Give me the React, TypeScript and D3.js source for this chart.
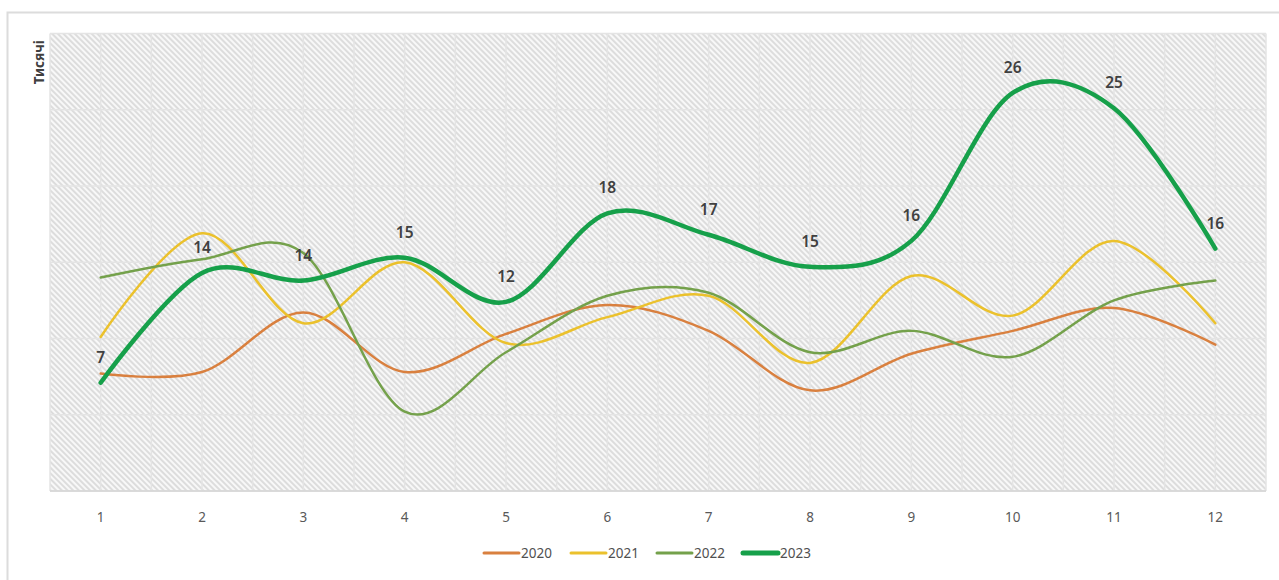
import * as d3 from "d3";
import { useRef, useEffect } from "react";

// months 1..12, values in thousands
const months = ["1", "2", "3", "4", "5", "6", "7", "8", "9", "10", "11", "12"];
const years = ["2020", "2021", "2022", "2023"];
const values2020 = [7.7, 7.8, 11.7, 7.8, 10.3, 12.2, 10.5, 6.6, 9.0, 10.5, 12.0, 9.6];
const values2021 = [10.1, 16.9, 11.0, 15.0, 9.7, 11.4, 12.8, 8.4, 14.1, 11.5, 16.4, 11.0];
const values2022 = [14.0, 15.2, 15.6, 5.2, 9.1, 12.8, 13.0, 9.1, 10.5, 8.8, 12.5, 13.8];
const values2023 = [7.1, 14.3, 13.8, 15.3, 12.4, 18.2, 16.8, 14.7, 16.4, 26.1, 25.1, 15.9];
const yTicks = [0, 5, 10, 15, 20, 25, 30];
const colors = ["#D9803F", "#EBC12C", "#74A14B", "#16A04A"];
const widths = [2.5, 2.5, 2.5, 4.5];

const App = () => {
    const container = useRef<HTMLDivElement>(null);

    useEffect(() => {
        const width = 1279;
        const height = 580;
        const marginLeft = 50, marginRight = 13, marginTop = 33.5, marginBottom = 89;
        const series = [values2020, values2021, values2022, values2023];

        d3.select(container.current).selectAll("*").remove();
        const svg = d3.select(container.current)
            .append("svg")
            .attr("width", width)
            .attr("height", height)
            .style("position", "absolute")
            .style("left", 0)
            .style("top", 0)
            .style("background", "#fff");

        const x = d3.scaleBand().domain(months).range([marginLeft, width - marginRight]);
        const y = d3.scaleLinear().domain([0, 30]).range([height - marginBottom, marginTop]);
        const cx = (m: string) => x(m)! + x.bandwidth() / 2;

        // outer chart border
        svg.append("rect")
            .attr("x", 7.5).attr("y", 12.5)
            .attr("width", width).attr("height", height)
            .attr("fill", "none")
            .attr("stroke", "#dcdcdc")
            .attr("stroke-width", 2);

        // diagonal hatch
        const pat = svg.append("defs").append("pattern")
            .attr("id", "hatch")
            .attr("patternUnits", "userSpaceOnUse")
            .attr("width", 4)
            .attr("height", 4)
            .attr("patternTransform", "rotate(-45)");
        pat.append("rect").attr("width", 4).attr("height", 4).attr("fill", "#f8f8f8");
        pat.append("line")
            .attr("x1", 1).attr("x2", 1).attr("y1", 0).attr("y2", 4)
            .attr("stroke", "#d6d6d6")
            .attr("stroke-width", 1.6);

        svg.append("rect")
            .attr("x", marginLeft)
            .attr("y", marginTop)
            .attr("width", width - marginLeft - marginRight)
            .attr("height", height - marginTop - marginBottom)
            .attr("fill", "url(#hatch)");

        // gridlines
        const grid = svg.append("g").attr("stroke", "#e4e4e4").attr("stroke-width", 1.5);
        grid.selectAll("line.h")
            .data(yTicks)
            .join("line")
            .attr("class", "h")
            .attr("x1", marginLeft).attr("x2", width - marginRight)
            .attr("y1", d => y(d)).attr("y2", d => y(d));
        const vx = months.flatMap(m => [x(m)!, cx(m)]).concat([width - marginRight]);
        grid.selectAll("line.v")
            .data(vx)
            .join("line")
            .attr("class", "v")
            .attr("y1", marginTop).attr("y2", height - marginBottom)
            .attr("x1", d => d).attr("x2", d => d);

        svg.append("line")
            .attr("x1", marginLeft).attr("x2", width - marginRight)
            .attr("y1", y(0)).attr("y2", y(0))
            .attr("stroke", "#d4d4d4")
            .attr("stroke-width", 1.5);

        // x axis labels
        svg.append("g")
            .attr("font-family", "'Noto Sans', sans-serif")
            .attr("font-size", 13.5)
            .attr("fill", "#595959")
            .attr("text-anchor", "middle")
            .selectAll("text")
            .data(months)
            .join("text")
            .attr("x", d => cx(d))
            .attr("y", height - marginBottom + 31)
            .text(d => d);

        // axis title
        svg.append("text")
            .attr("transform", `translate(44,40) rotate(-90)`)
            .attr("text-anchor", "end")
            .attr("font-family", "'Noto Sans', sans-serif")
            .attr("font-weight", "bold")
            .attr("font-size", 13.5)
            .attr("fill", "#404040")
            .text("Тисячі");

        // lines
        const line = d3.line<number>()
            .x((d, i) => cx(months[i]))
            .y(d => y(d))
            .curve(d3.curveCatmullRom.alpha(0));

        svg.append("g")
            .attr("fill", "none")
            .attr("stroke-linecap", "round")
            .selectAll("path")
            .data(series)
            .join("path")
            .attr("stroke", (d, i) => colors[i])
            .attr("stroke-width", (d, i) => widths[i])
            .attr("d", d => line(d));

        // data labels for 2023
        svg.append("g")
            .attr("font-family", "'Noto Sans', sans-serif")
            .attr("font-size", 15.5)
            .attr("font-weight", 600)
            .attr("fill", "#404040")
            .attr("text-anchor", "middle")
            .selectAll("text")
            .data(values2023)
            .join("text")
            .attr("x", (d, i) => cx(months[i]))
            .attr("y", d => y(d) - 20)
            .text(d => d3.format(".0f")(d));

        // legend
        const legendX = [484, 571, 657, 743];
        const legend = svg.append("g")
            .attr("font-family", "'Noto Sans', sans-serif")
            .attr("font-size", 13.5)
            .attr("fill", "#505050");
        const item = legend.selectAll("g")
            .data(years)
            .join("g")
            .attr("transform", (d, i) => `translate(${legendX[i]},553)`);
        item.append("line")
            .attr("x1", 0).attr("x2", 35)
            .attr("stroke", (d, i) => colors[i])
            .attr("stroke-width", (d, i) => i === 3 ? 5 : 3)
            .attr("stroke-linecap", "round");
        item.append("text")
            .attr("x", 37)
            .attr("dy", "0.35em")
            .text(d => d);
    }, []);

    return <div ref={container}></div>;
};

export default App;
